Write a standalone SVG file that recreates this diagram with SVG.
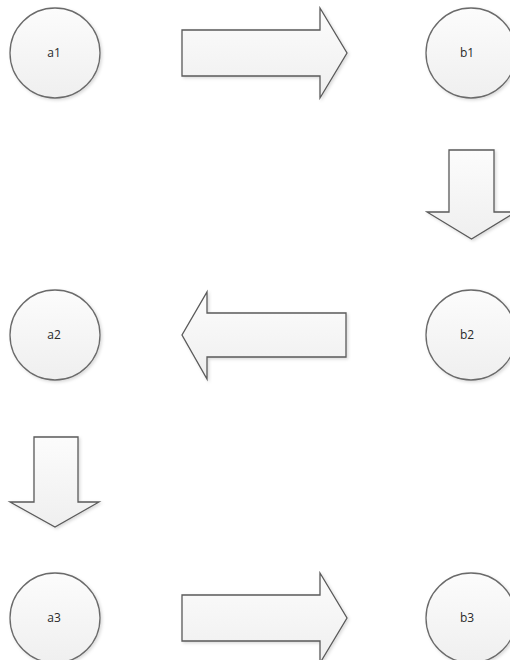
<svg xmlns="http://www.w3.org/2000/svg" width="510" height="660" viewBox="0 0 510 660">
<defs>
<linearGradient id="g" x1="0" y1="0" x2="0" y2="1">
<stop offset="0" stop-color="#fcfcfc"/>
<stop offset="1" stop-color="#efefef"/>
</linearGradient>
<filter id="sh" x="-20%" y="-20%" width="140%" height="140%">
<feDropShadow dx="1.5" dy="1.5" stdDeviation="1.5" flood-color="#000" flood-opacity="0.15"/>
</filter>
<style>
.n{fill:url(#g);stroke:#6a6a6a;stroke-width:1.3;filter:url(#sh)}
.a{fill:url(#g);stroke:#5a5a5a;stroke-width:1.3;stroke-linejoin:miter;filter:url(#sh)}
.t{font-family:"Open Sans","DejaVu Sans",sans-serif;font-size:12px;fill:#2a2a2a;text-anchor:middle}
</style>
</defs>
<rect width="510" height="660" fill="#fff"/>
<g id="a1"><circle class="n" cx="55" cy="53" r="45"/><text class="t" x="54" y="57">a1</text></g>
<g id="b1"><circle class="n" cx="471" cy="53" r="45"/><text class="t" x="467" y="57">b1</text></g>
<g id="a2"><circle class="n" cx="55" cy="335" r="45"/><text class="t" x="54" y="339">a2</text></g>
<g id="b2"><circle class="n" cx="471" cy="335" r="45"/><text class="t" x="467" y="339">b2</text></g>
<g id="a3"><circle class="n" cx="55" cy="618" r="45"/><text class="t" x="54" y="622">a3</text></g>
<g id="b3"><circle class="n" cx="471" cy="618" r="45"/><text class="t" x="467" y="622">b3</text></g>
<g id="connectors">
<polygon class="a" points="182,30 320,30 320,8 347,53 320,98 320,76 182,76"/>
<polygon class="a" points="449,150 494,150 494,212 516,212 471.5,239 427,212 449,212"/>
<polygon class="a" points="346,313 207,313 207,292 182,335 207,379 207,357 346,357"/>
<polygon class="a" points="34,437 78,437 78,502 99,502 55,527 10,502 34,502"/>
<polygon class="a" points="182,595 320,595 320,573 347,618 320,663 320,641 182,641"/>
</g>
</svg>
